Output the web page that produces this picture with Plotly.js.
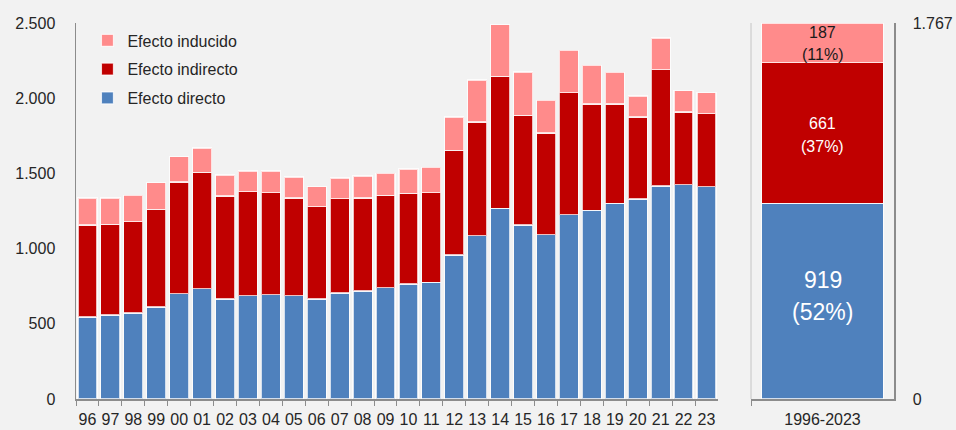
<!DOCTYPE html>
<html>
<head>
<meta charset="utf-8">
<script src="https://cdn.plot.ly/plotly-3.0.1.min.js"></script>
<style>html,body{margin:0;padding:0;background:#f2f2f2;}#chart{width:956px;height:430px;}</style>
</head>
<body>
<div id="chart"></div>
<script>
const years = ['96','97','98','99','00','01','02','03','04','05','06','07','08','09','10','11','12','13','14','15','16','17','18','19','20','21','22','23'];
const directo   = [545,558,572,612,700,733,665,687,694,687,665,705,718,740,765,776,957,1086,1268,1157,1093,1226,1255,1301,1330,1416,1425,1412];
const indirecto = [612,603,607,649,743,774,685,691,678,649,614,627,618,614,603,596,696,756,877,729,676,811,706,660,545,774,483,485];
const inducido  = [179,175,175,177,168,162,139,138,144,140,133,137,147,147,161,169,222,279,344,288,217,281,257,211,140,210,142,140];

const periodo = ['1996-2023'];
const mediaDirecto = [919];
const mediaIndirecto = [661];
const mediaInducido = [187];
const cuotas = ['52%','37%','11%'];
const rightTicks = [0, 1767];
const rightTickText = ['0','1.767'];

const cBlue = '#4f81bd', cRed = '#c00000', cPink = '#ff8b8b';
const edge = {color:'rgba(255,255,255,0.75)', width:1.2};
const font = 'Liberation Sans, Arial, sans-serif';

const traces = [
  {type:'bar', name:'Efecto directo', x:years, y:directo, marker:{color:cBlue, line:edge}, xaxis:'x', yaxis:'y', legendgroup:'a', legendrank:3},
  {type:'bar', name:'Efecto indirecto', x:years, y:indirecto, marker:{color:cRed, line:edge}, xaxis:'x', yaxis:'y', legendgroup:'b', legendrank:2},
  {type:'bar', name:'Efecto inducido', x:years, y:inducido, marker:{color:cPink, line:edge}, xaxis:'x', yaxis:'y', legendgroup:'c', legendrank:1},
  {type:'bar', name:'Efecto directo', x:periodo, y:mediaDirecto, width:0.85, marker:{color:cBlue, line:edge}, xaxis:'x2', yaxis:'y2', showlegend:false},
  {type:'bar', name:'Efecto indirecto', x:periodo, y:mediaIndirecto, width:0.85, marker:{color:cRed, line:edge}, xaxis:'x2', yaxis:'y2', showlegend:false},
  {type:'bar', name:'Efecto inducido', x:periodo, y:mediaInducido, width:0.85, marker:{color:cPink, line:edge}, xaxis:'x2', yaxis:'y2', showlegend:false}
];

const d = mediaDirecto[0], i = mediaIndirecto[0], n = mediaInducido[0];
function pair(yv, val, share, size, color, up, down) {
  return [
    {x:periodo[0], y:yv, xref:'x2', yref:'y2', yshift:up, text:String(val), showarrow:false, font:{family:font, size:size, color:color}},
    {x:periodo[0], y:yv, xref:'x2', yref:'y2', yshift:down, text:'(' + share + ')', showarrow:false, font:{family:font, size:size, color:color}}
  ];
}
const annotations = [].concat(
  pair(d/2, d, cuotas[0], 23, '#ffffff', 21, -11),
  pair(d + i/2, i, cuotas[1], 16, '#ffffff', 10, -13),
  pair(d + i + n/2, n, cuotas[2], 16, '#1a1a1a', 10, -12)
);

const axisGray = '#8c8c8c';
const layout = {
  width:956, height:430,
  paper_bgcolor:'#f2f2f2', plot_bgcolor:'#f2f2f2',
  margin:{l:76, r:62, t:23, b:31},
  barmode:'stack', bargap:0.17,
  separators:',.',
  font:{family:font, size:16, color:'#262626'},
  showlegend:true,
  legend:{x:0.014, y:0.999, xanchor:'left', yanchor:'top', bgcolor:'rgba(0,0,0,0)', traceorder:'grouped', tracegroupgap:5, font:{family:font, size:16, color:'#262626'}},
  xaxis:{domain:[0, 0.7848], type:'category', tickangle:0, showline:true, linecolor:axisGray, linewidth:1.5, ticks:'outside', tickson:'boundaries', ticklen:5, tickcolor:axisGray, tickwidth:1, ticklabelstandoff:5, showgrid:false, zeroline:false, tickfont:{size:16}},
  yaxis:{range:[0,2500], dtick:500, tickformat:',d', showline:true, linecolor:axisGray, linewidth:1.5, ticks:'outside', ticklen:16, tickcolor:'rgba(0,0,0,0)', showgrid:false, zeroline:false, tickfont:{size:16}},
  xaxis2:{domain:[0.8252, 1], type:'category', tickangle:0, anchor:'y2', showline:true, linecolor:axisGray, linewidth:1.5, ticks:'outside', tickson:'boundaries', ticklen:5, tickcolor:axisGray, ticklabelstandoff:5, showgrid:false, zeroline:false, tickfont:{size:16}},
  yaxis2:{anchor:'x2', side:'right', range:[0,1767], tickvals:rightTicks, ticktext:rightTickText, showline:true, linecolor:axisGray, linewidth:1.5, ticks:'outside', ticklen:14, tickcolor:'rgba(0,0,0,0)', showgrid:false, zeroline:false, tickfont:{size:16}},
  shapes:[
    {type:'line', xref:'x2 domain', yref:'y2 domain', x0:0, x1:0, y0:0, y1:1, line:{color:'#d4d4d4', width:1.5}}
  ],
  annotations:annotations
};

Plotly.newPlot('chart', traces, layout, {staticPlot:true, displayModeBar:false});
</script>
</body>
</html>
